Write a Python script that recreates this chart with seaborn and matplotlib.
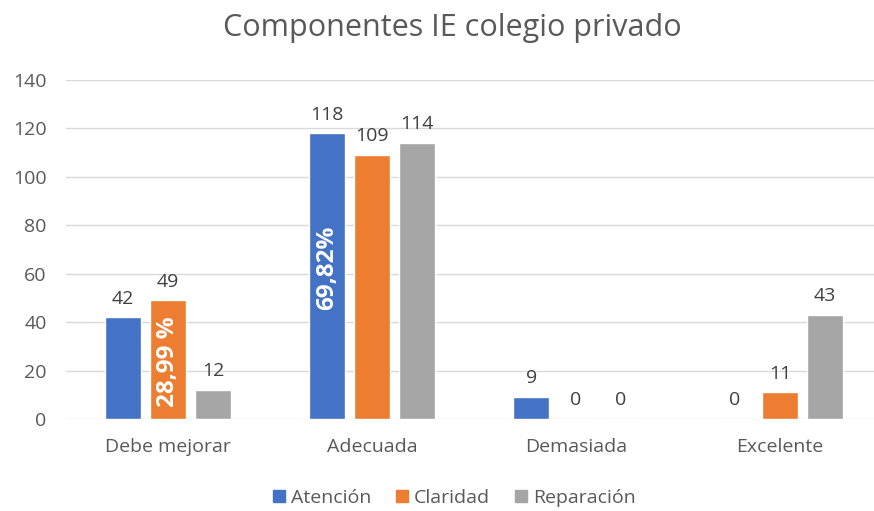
import matplotlib
matplotlib.use("Agg")
import matplotlib.pyplot as plt
import seaborn as sns
import pandas as pd

categorias = ["Debe mejorar", "Adecuada", "Demasiada", "Excelente"]
series = ["Atención", "Claridad", "Reparación"]
atencion = [42, 118, 9, 0]
claridad = [49, 109, 0, 11]
reparacion = [12, 114, 0, 43]
colores = ["#4472C4", "#ED7D31", "#A5A5A5"]

df = pd.DataFrame({
    "Categoria": categorias * 3,
    "Serie": [s for s in series for _ in categorias],
    "Valor": atencion + claridad + reparacion,
})

sns.set_style("white")
plt.rcParams["font.family"] = ["Open Sans", "DejaVu Sans"]

fig = plt.figure(figsize=(8.74, 5.11), dpi=100)
ax = fig.add_axes([66 / 874, 1 - 419 / 511, 808 / 874, 339 / 511])

sns.barplot(data=df, x="Categoria", y="Valor", hue="Serie", palette=colores,
            width=0.66, gap=0.2, saturation=1, ax=ax, legend=False)

ax.set_ylim(0, 140)
ax.set_xlim(-0.5, -0.5 + 808 / 204)
ax.set_yticks(range(0, 141, 20))
ax.yaxis.grid(True, color="#D9D9D9", linewidth=1)
ax.set_axisbelow(True)
for s in ax.spines.values():
    s.set_visible(False)
ax.set_xlabel("")
ax.set_ylabel("")
ax.tick_params(axis="both", length=0, labelsize=14, labelcolor="#595959")
ax.tick_params(axis="x", pad=14)
ax.tick_params(axis="y", pad=14)

# etiquetas de datos
for cont in ax.containers:
    ax.bar_label(cont, padding=7, fontsize=14, color="#404040")

# porcentajes dentro de las barras
b = ax.containers[1][0]
ax.text(b.get_x() + b.get_width() / 2, 23.5, "28,99 %", rotation=90, ha="center", va="center",
        color="white", fontsize=17.5, fontweight="bold")
b = ax.containers[0][1]
ax.text(b.get_x() + b.get_width() / 2, 62.5, "69,82%", rotation=90, ha="center", va="center",
        color="white", fontsize=17.5, fontweight="bold")

fig.text(0.518, 1 - 28 / 511, "Componentes IE colegio privado", ha="center", va="center",
         fontsize=22, color="#595959")

handles = [plt.Rectangle((0, 0), 1, 1, color=c) for c in colores]
fig.legend(handles, series, loc="center", bbox_to_anchor=(0.52, 1 - 498 / 511), ncol=3,
           frameon=False, fontsize=14, labelcolor="#595959", handlelength=0.6,
           handleheight=0.6, handletextpad=0.3, columnspacing=1.3)

fig.savefig("out.png", dpi=100)
